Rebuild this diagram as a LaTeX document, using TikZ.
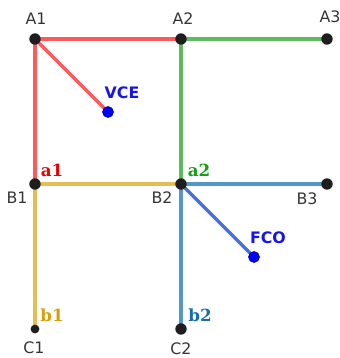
\documentclass[tikz,border=0pt]{standalone}
\usepackage{fontspec}
\setmainfont{DejaVu Sans}
\newfontfamily\lblserif{DejaVu Serif}
\usepackage{tikz}
\usetikzlibrary{backgrounds}
\definecolor{lnR}{RGB}{255, 90, 90}
\definecolor{lnG}{RGB}{ 95,185, 95}
\definecolor{lnY}{RGB}{228,190, 85}
\definecolor{lnB}{RGB}{ 85,150,200}
\definecolor{lnF}{RGB}{ 70,110,220}
\definecolor{txR}{RGB}{235,  0,  0}
\definecolor{txG}{RGB}{ 20,160, 20}
\definecolor{txY}{RGB}{215,160, 10}
\definecolor{txB}{RGB}{ 25,110,170}
\definecolor{txV}{RGB}{ 20, 20,235}
\definecolor{ptK}{RGB}{ 30, 30, 30}

\begin{document}
\begin{tikzpicture}[
    x=0.02cm, y=-0.02cm,
    pt/.style={circle, fill=ptK, inner sep=0pt, minimum size=6.5pt},
    ptsm/.style={pt, minimum size=5pt},
    ptv/.style={circle, fill=blue, draw=blue!60!black, line width=0.3pt, inner sep=0pt, minimum size=6.3pt},
    seg/.style={line width=2pt},
    ptlbl/.style={font=\fontsize{9}{10}\selectfont, text=ptK!90, inner sep=0pt},
    tag/.style={font=\fontsize{9}{10}\selectfont\bfseries, text=txV, inner sep=0pt},
    sub/.style={font=\fontsize{9.5}{10}\lblserif\bfseries, inner sep=0pt}
  ]
  \useasboundingbox (0,0) rectangle (339,358);

  % points
  \node[pt] (A1) at (35,39) {};
  \node[pt] (A2) at (181,39) {};
  \node[pt] (A3) at (327,39) {};
  \node[pt] (B1) at (35,184) {};
  \node[pt] (B2) at (181,184) {};
  \node[pt] (B3) at (327,184) {};
  \node[ptsm] (C1) at (35,329) {};
  \node[pt] (C2) at (181,329) {};
  \node[ptv] (VCE) at (108,112) {};
  \node[ptv] (FCO) at (254,257) {};

  % segments
  \begin{scope}[on background layer]
    \draw[seg, lnR] (B1.center) -- (A1.center) -- (A2.center);
    \draw[seg, lnR] (A1.center) -- (VCE.center);
    \draw[seg, lnG] (A3.center) -- (A2.center) -- (B2.center);
    \draw[seg, lnY] (C1.center) -- (B1.center) -- (B2.center);
    \draw[seg, lnB] (C2.center) -- (B2.center) -- (B3.center);
    \draw[seg, lnF] (B2.center) -- (FCO.center);
  \end{scope}

  % names
  \node[ptlbl] (nA1) at (36,19) {A1};
  \node[ptlbl] (nA2) at (183,19) {A2};
  \node[ptlbl] (nA3) at (330,17) {A3};
  \node[ptlbl] (nB1) at (17,198) {B1};
  \node[ptlbl] (nB2) at (162,198) {B2};
  \node[ptlbl] (nB3) at (307,199) {B3};
  \node[ptlbl] (nC1) at (34,348) {C1};
  \node[ptlbl] (nC2) at (181,349) {C2};
  \node[tag] (tVCE) at (122,93) {VCE};
  \node[tag] (tFCO) at (268,238) {FCO};

  % line tags
  \node[sub, text=txR] (ta1) at (52,170) {a1};
  \node[sub, text=txG] (ta2) at (199,170) {a2};
  \node[sub, text=txY] (tb1) at (52,315) {b1};
  \node[sub, text=txB] (tb2) at (200,315) {b2};
\end{tikzpicture}
\end{document}
